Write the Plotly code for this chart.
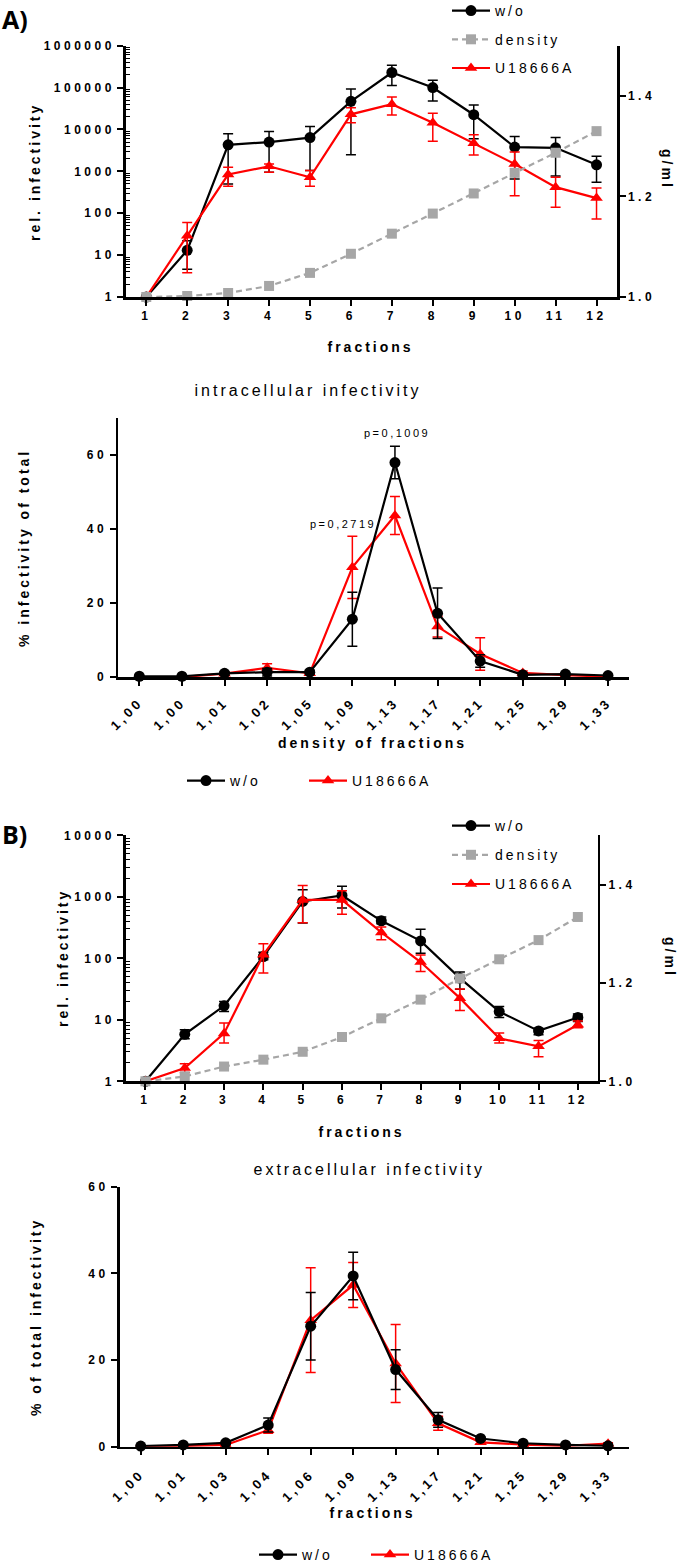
import plotly.graph_objects as go

W, H = 680, 1567

fractions = list(range(1, 13))
frac_labels = [str(f) for f in fractions]

# ---------- A) top: relative infectivity (log) ----------
a_wo = [1, 13, 4300, 5000, 6400, 47000, 229000, 100000, 22500, 3800, 3650, 1430]
a_wo_hi = [1, 22, 7900, 8900, 11800, 92000, 340000, 150000, 38500, 6800, 6400, 2300]
a_wo_lo = [1, 4.6, 500, 950, 1050, 2500, 112000, 48000, 6000, 660, 770, 550]
a_u = [1, 29, 840, 1320, 720, 23000, 40000, 14500, 4700, 1500, 420, 230]
a_u_hi = [1, 60, 1250, 1500, 1050, 33000, 60000, 24500, 7500, 2900, 720, 400]
a_u_lo = [1, 3.8, 440, 950, 440, 14500, 22000, 5200, 2450, 260, 138, 73]
a_density = [1.000, 1.002, 1.008, 1.022, 1.048, 1.086, 1.126, 1.166, 1.206, 1.247, 1.287, 1.330]

# ---------- A) bottom: intracellular infectivity ----------
dens_labels_a = ["1,00", "1,00", "1,01", "1,02", "1,05", "1,09", "1,13", "1,17", "1,21", "1,25", "1,29", "1,33"]
b_wo = [0.2, 0.2, 1.0, 1.3, 1.3, 15.6, 57.9, 17.2, 4.3, 0.6, 0.8, 0.4]
b_wo_err = [0.2, 0.2, 0.5, 1.0, 0.5, 7.3, 4.4, 6.8, 1.7, 0.4, 0.4, 0.2]
b_u = [0.0, 0.0, 0.9, 2.5, 1.0, 29.6, 43.6, 13.6, 6.2, 1.1, 0.5, 0.1]
b_u_err = [0.0, 0.0, 0.4, 1.1, 0.5, 8.4, 5.1, 2.8, 4.4, 0.5, 0.3, 0.1]

# ---------- B) top: relative infectivity (log) ----------
c_wo = [1, 5.8, 16.9, 107, 840, 1050, 407, 192, 47.6, 13.6, 6.6, 10.9]
c_wo_hi = [1, 6.9, 19.8, 125, 1300, 1480, 470, 298, 60, 16.5, 7.3, 12.4]
c_wo_lo = [1, 4.9, 13.6, 95, 375, 660, 363, 121, 31.5, 10.9, 5.7, 9.4]
c_u = [1, 1.64, 6.0, 114, 890, 890, 263, 87, 22.5, 5.0, 3.7, 8.3]
c_u_hi = [1, 1.93, 8.9, 172, 1520, 1260, 322, 113, 31.6, 6.1, 4.6, 9.6]
c_u_lo = [1, 1.39, 4.2, 57.6, 380, 522, 200, 61, 14.1, 4.2, 2.5, 7.4]
c_density = [1.000, 1.010, 1.030, 1.044, 1.060, 1.090, 1.128, 1.166, 1.209, 1.248, 1.287, 1.334]

# ---------- B) bottom: extracellular infectivity ----------
dens_labels_b = ["1,00", "1,01", "1,03", "1,04", "1,06", "1,09", "1,13", "1,17", "1,21", "1,25", "1,29", "1,33"]
d_wo = [0.15, 0.4, 0.9, 5.0, 27.8, 39.4, 17.8, 6.2, 1.9, 0.8, 0.4, 0.2]
d_wo_err = [0.1, 0.2, 0.3, 1.6, 7.8, 5.5, 4.6, 1.7, 0.3, 0.2, 0.2, 0.1]
d_u = [0.1, 0.15, 0.4, 3.8, 29.2, 37.3, 19.2, 5.4, 1.0, 0.5, 0.2, 0.7]
d_u_err = [0.1, 0.1, 0.2, 0.7, 12.1, 5.2, 9.0, 1.6, 0.3, 0.2, 0.1, 0.2]

log_ticks_a = [1, 10, 100, 1000, 10000, 100000, 1000000]
log_ticks_b = [1, 10, 100, 1000, 10000]
g_ticks = [1.0, 1.2, 1.4]
g_labels = ["1.0", "1.2", "1.4"]
pct_ticks = [0, 20, 40, 60]

BLACK = "#000000"
RED = "#ff0000"
GRAY = "#a6a6a6"
FONT = "Liberation Sans"


def px(x):
    return x / W


def py(y):
    return 1 - y / H


def err_up(v, hi):
    return [h - a for a, h in zip(v, hi)]


def err_dn(v, lo):
    return [a - l for a, l in zip(v, lo)]


fig = go.Figure()


def add_series(x, y, xa, ya, name, color, symbol, legend, up=None, dn=None, sym=None,
               dash=None, size=11, showerr=True):
    ey = None
    if showerr:
        if sym is not None:
            ey = dict(type="data", array=sym, color=color, thickness=1.5, width=5)
        else:
            ey = dict(type="data", symmetric=False, array=up, arrayminus=dn,
                      color=color, thickness=1.5, width=5)
    fig.add_trace(go.Scatter(
        x=x, y=y, xaxis=xa, yaxis=ya, name=name, mode="lines+markers",
        line=dict(color=color, width=2.2, dash=dash),
        marker=dict(color=color, symbol=symbol, size=size),
        error_y=ey, cliponaxis=False, legend=legend, legendgroup=name + legend,
    ))


# Plot 1 (A top)
add_series(fractions, a_wo, "x", "y", "w/o", BLACK, "circle", "legend",
           up=err_up(a_wo, a_wo_hi), dn=err_dn(a_wo, a_wo_lo))
add_series(fractions, a_density, "x", "y5", "density", GRAY, "square", "legend",
           dash="6px,4px", size=10, showerr=False)
add_series(fractions, a_u, "x", "y", "U18666A", RED, "triangle-up", "legend",
           up=err_up(a_u, a_u_hi), dn=err_dn(a_u, a_u_lo))

# Plot 2 (A bottom)
add_series(fractions, b_u, "x2", "y2", "U18666A", RED, "triangle-up", "legend2", sym=b_u_err)
add_series(fractions, b_wo, "x2", "y2", "w/o", BLACK, "circle", "legend2", sym=b_wo_err)

# Plot 3 (B top)
add_series(fractions, c_wo, "x3", "y3", "w/o", BLACK, "circle", "legend3",
           up=err_up(c_wo, c_wo_hi), dn=err_dn(c_wo, c_wo_lo))
add_series(fractions, c_density, "x3", "y6", "density", GRAY, "square", "legend3",
           dash="6px,4px", size=10, showerr=False)
add_series(fractions, c_u, "x3", "y3", "U18666A", RED, "triangle-up", "legend3",
           up=err_up(c_u, c_u_hi), dn=err_dn(c_u, c_u_lo))

# Plot 4 (B bottom)
add_series(fractions, d_u, "x4", "y4", "U18666A", RED, "triangle-up", "legend4", sym=d_u_err)
add_series(fractions, d_wo, "x4", "y4", "w/o", BLACK, "circle", "legend4", sym=d_wo_err)

tickfont = dict(family=FONT, size=12, color=BLACK, weight="bold")
rotfont = dict(family=FONT, size=13, color=BLACK, weight="bold")
axis_common = dict(showline=True, linewidth=2.5, linecolor=BLACK, ticks="outside",
                   ticklen=6, tickwidth=2, tickcolor=BLACK, showgrid=False,
                   zeroline=False, fixedrange=True)


def minor_log(decades):
    return [m * 10 ** k for k in range(decades) for m in range(2, 10)]


layout = dict(
    width=W, height=H, autosize=False,
    margin=dict(l=0, r=0, t=0, b=0, autoexpand=False),
    paper_bgcolor="white", plot_bgcolor="rgba(0,0,0,0)",
    font=dict(family=FONT, color=BLACK),
    # plot 1
    xaxis=dict(domain=[px(125.8), px(617)], range=[0.5, 12.5], anchor="y",
               tickvals=fractions, ticktext=frac_labels, tickfont=tickfont, **axis_common),
    yaxis=dict(domain=[py(297), py(45.7)], type="log", range=[0, 6], anchor="x",
               tickvals=log_ticks_a, ticktext=[str(v) for v in log_ticks_a], tickfont=tickfont,
               minor=dict(tickvals=minor_log(6), ticks="inside", ticklen=4, tickwidth=1,
                          tickcolor=BLACK), **axis_common),
    yaxis5=dict(overlaying="y", side="right", anchor="x", range=[1.0, 1.5],
                tickvals=g_ticks, ticktext=g_labels, tickfont=tickfont, **axis_common),
    # plot 2
    xaxis2=dict(domain=[px(118), px(629.3)], range=[0.5, 12.5], anchor="y2",
                tickvals=fractions, ticktext=dens_labels_a, tickangle=-45, tickfont=rotfont,
                ticklabelstandoff=4, **axis_common),
    yaxis2=dict(domain=[py(677), py(417.7)], range=[0, 70], anchor="x2",
                tickvals=pct_ticks, ticktext=[str(v) for v in pct_ticks], tickfont=tickfont,
                **axis_common),
    # plot 3
    xaxis3=dict(domain=[px(125.8), px(597.5)], range=[0.5, 12.5], anchor="y3",
                tickvals=fractions, ticktext=frac_labels, tickfont=tickfont, **axis_common),
    yaxis3=dict(domain=[py(1081.3), py(835.3)], type="log", range=[0, 4], anchor="x3",
                tickvals=log_ticks_b, ticktext=[str(v) for v in log_ticks_b], tickfont=tickfont,
                minor=dict(tickvals=minor_log(4), ticks="inside", ticklen=4, tickwidth=1,
                           tickcolor=BLACK), **axis_common),
    yaxis6=dict(overlaying="y3", side="right", anchor="x3", range=[1.0, 1.5],
                tickvals=g_ticks, ticktext=g_labels, tickfont=tickfont, **axis_common),
    # plot 4
    xaxis4=dict(domain=[px(119.5), px(629.3)], range=[0.5, 12.5], anchor="y4",
                tickvals=fractions, ticktext=dens_labels_b, tickangle=-45, tickfont=rotfont,
                ticklabelstandoff=6, **axis_common),
    yaxis4=dict(domain=[py(1446.7), py(1186.7)], range=[0, 60], anchor="x4",
                tickvals=pct_ticks, ticktext=[str(v) for v in pct_ticks], tickfont=tickfont,
                **axis_common),
)

legend_font = dict(family=FONT, size=14, color=BLACK)
layout["legend"] = dict(x=px(447), y=py(-5), xanchor="left", yanchor="top",
                        font=legend_font, bgcolor="rgba(0,0,0,0)", tracegroupgap=7.5,
                        itemwidth=38, traceorder="grouped")
layout["legend3"] = dict(x=px(447), y=py(810), xanchor="left", yanchor="top",
                         font=legend_font, bgcolor="rgba(0,0,0,0)", tracegroupgap=8,
                         itemwidth=38, traceorder="grouped")
layout["legend2"] = dict(x=px(182), y=py(781), xanchor="left", yanchor="middle",
                         orientation="h", font=legend_font, bgcolor="rgba(0,0,0,0)",
                         itemwidth=38, entrywidth=69, traceorder="reversed")
layout["legend4"] = dict(x=px(254), y=py(1555), xanchor="left", yanchor="middle",
                         orientation="h", font=legend_font, bgcolor="rgba(0,0,0,0)",
                         itemwidth=38, entrywidth=59, traceorder="reversed")

fig.update_layout(**layout)

bold14 = dict(family=FONT, size=14, color=BLACK, weight="bold")
reg16 = dict(family=FONT, size=16, color=BLACK)
reg11 = dict(family=FONT, size=11, color=BLACK)
panel = dict(family="Open Sans", size=25, color=BLACK, weight="bold")


def note(text, x, y, font, angle=0, xanchor="center", yanchor="middle",
         xref="paper", yref="paper"):
    fig.add_annotation(text=text, x=x, y=y, xref=xref, yref=yref, showarrow=False,
                       font=font, textangle=angle, xanchor=xanchor, yanchor=yanchor)


note("A)", px(0), py(0), panel, xanchor="left", yanchor="top")
note("B)", px(0), py(834), panel, xanchor="left")
note("rel. infectivity", px(35), py(172), bold14, angle=-90)
note("g/ml", px(667), py(169), bold14, angle=90)
note("fractions", px(371), py(347), bold14)
note("intracellular infectivity", px(308), py(390), reg16)
note("% infectivity of total", px(24), py(548), bold14, angle=-90)
note("p=0,1009", 7.05, 65.8, reg11, xref="x2", yref="y2")
note("p=0,2719", 5.78, 41.4, reg11, xref="x2", yref="y2")
note("density of fractions", px(372), py(743), bold14)
note("rel. infectivity", px(63), py(958), bold14, angle=-90)
note("g/ml", px(670), py(957), bold14, angle=90)
note("fractions", px(361), py(1132), bold14)
note("extracellular infectivity", px(370), py(1169), reg16)
note("% of total infectivity", px(36), py(1317), bold14, angle=-90)
note("fractions", px(372), py(1513), bold14)

post = """
(function(){
  var gd = document.getElementById('{plot_id}');
  function ls(){
    document.body.style.margin = '0';
    gd.querySelectorAll('.infolayer [clip-path]').forEach(function(e){
      e.removeAttribute('clip-path');
    });
    gd.querySelectorAll('text').forEach(function(t){
      var s = t.textContent;
      if (s === 'A)' || s === 'B)') { return; }
      var fs = parseFloat(t.style.fontSize) || 12;
      var sp = '3px';
      if (fs <= 11) { sp = '2.5px'; }
      else if (fs <= 13) { sp = '3.5px'; }
      else if (fs <= 14) { sp = '3px'; }
      t.style.letterSpacing = sp;
    });
  }
  ls();
  if (gd.on) { gd.on('plotly_afterplot', ls); }
})();
"""

fig.write_html("out.html", post_script=post, config={"staticPlot": True})
